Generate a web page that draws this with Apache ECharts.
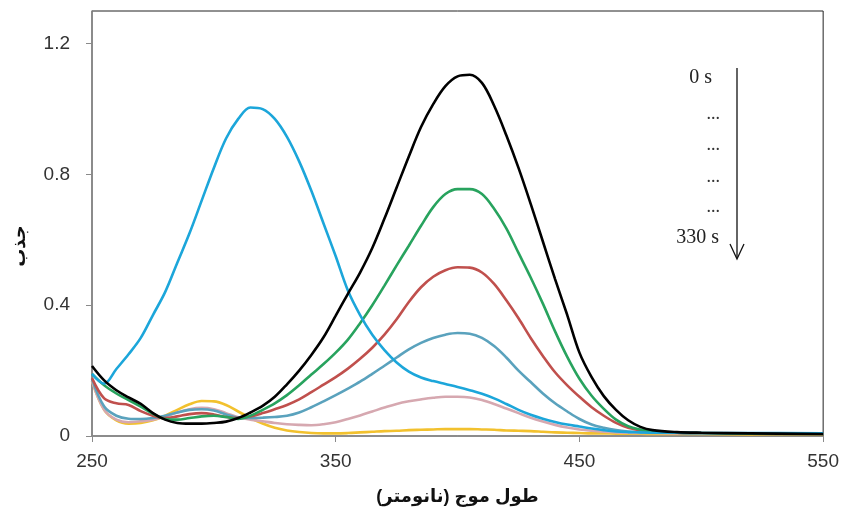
<!DOCTYPE html>
<html>
<head>
<meta charset="utf-8">
<script src="https://cdn.jsdelivr.net/npm/echarts@6/dist/echarts.min.js"></script>
<style>html,body{margin:0;padding:0;background:#fff}#c{width:842px;height:517px}</style>
</head>
<body>
<div id="c"></div>
<script>
const wavelengths = [250,255,260,265,270,275,280,285,290,295,300,305,310,315,320,325,330,335,340,345,350,355,360,365,370,375,380,385,390,395,400,405,410,415,420,425,430,435,440,445,450,455,460,465,470,475,480,490,500,520,550];

const s0 = [0.214,0.17,0.14,0.118,0.098,0.07,0.05,0.04,0.038,0.038,0.04,0.044,0.055,0.072,0.092,0.12,0.158,0.2,0.248,0.302,0.368,0.435,0.5,0.575,0.665,0.76,0.855,0.945,1.015,1.07,1.1,1.105,1.08,1.01,0.92,0.82,0.71,0.595,0.48,0.37,0.255,0.18,0.122,0.08,0.048,0.028,0.018,0.012,0.01,0.008,0.006];
const s1 = [0.19,0.155,0.13,0.11,0.09,0.068,0.052,0.05,0.055,0.06,0.062,0.058,0.052,0.062,0.08,0.1,0.125,0.155,0.188,0.22,0.255,0.295,0.345,0.4,0.46,0.522,0.582,0.643,0.7,0.74,0.755,0.755,0.74,0.695,0.635,0.56,0.485,0.405,0.32,0.242,0.175,0.123,0.083,0.05,0.03,0.02,0.014,0.01,0.009,0.007,0.006];
const s2 = [0.177,0.115,0.1,0.095,0.076,0.062,0.055,0.06,0.067,0.07,0.066,0.058,0.055,0.06,0.07,0.082,0.095,0.112,0.134,0.157,0.18,0.206,0.236,0.27,0.31,0.357,0.41,0.455,0.487,0.507,0.516,0.515,0.5,0.465,0.415,0.36,0.3,0.245,0.195,0.155,0.12,0.088,0.062,0.04,0.025,0.017,0.013,0.01,0.009,0.007,0.006];
const s3 = [0.174,0.09,0.062,0.053,0.052,0.055,0.062,0.072,0.08,0.082,0.078,0.066,0.056,0.055,0.056,0.058,0.062,0.072,0.088,0.106,0.125,0.145,0.166,0.19,0.215,0.24,0.265,0.285,0.3,0.31,0.315,0.313,0.3,0.275,0.24,0.2,0.165,0.13,0.1,0.075,0.052,0.035,0.025,0.018,0.014,0.012,0.011,0.01,0.009,0.008,0.007];
const s4 = [0.168,0.08,0.05,0.042,0.045,0.05,0.06,0.072,0.082,0.086,0.082,0.07,0.057,0.05,0.045,0.04,0.036,0.034,0.033,0.036,0.042,0.052,0.063,0.075,0.087,0.098,0.106,0.112,0.117,0.12,0.12,0.118,0.11,0.098,0.084,0.07,0.056,0.044,0.034,0.026,0.02,0.016,0.013,0.011,0.01,0.009,0.009,0.008,0.008,0.007,0.006];
const s5 = [0.168,0.08,0.048,0.038,0.04,0.048,0.062,0.08,0.097,0.107,0.106,0.095,0.075,0.055,0.038,0.025,0.017,0.012,0.009,0.008,0.008,0.009,0.011,0.013,0.015,0.016,0.018,0.019,0.02,0.021,0.021,0.021,0.02,0.019,0.017,0.016,0.015,0.013,0.011,0.01,0.009,0.008,0.008,0.007,0.007,0.007,0.006,0.006,0.006,0.005,0.005];
const s6 = [0.19,0.16,0.205,0.25,0.3,0.37,0.44,0.53,0.62,0.72,0.82,0.91,0.97,1.005,1.0,0.97,0.915,0.84,0.75,0.65,0.55,0.445,0.37,0.31,0.263,0.225,0.197,0.179,0.168,0.159,0.15,0.14,0.129,0.115,0.098,0.08,0.065,0.053,0.043,0.035,0.029,0.023,0.018,0.014,0.012,0.011,0.01,0.01,0.009,0.009,0.008];

const seriesData = [s5, s4, s3, s2, s1, s6, s0];
const seriesColors = ['#f2c12e','#d6a8b0','#5aa2bd','#c0504d','#28a35e','#1ca6da','#000000'];

const xTicks = [250,350,450,550];
const yTicks = [0,0.4,0.8,1.2];
const timeLabels = ['0 s','...','...','...','...','330 s'];
const yTitle = 'جذب';
const xTitle = 'طول موج (نانومتر)\u200F';

const chart = echarts.init(document.getElementById('c'), null, {renderer:'canvas'});
const labelFont = 'Arial, "Liberation Sans", sans-serif';
const serif = '"Liberation Serif", "Times New Roman", serif';

chart.setOption({
  animation: false,
  backgroundColor: '#fff',
  grid: {left: 92, right: 18, top: 11, bottom: 81, show: true, borderColor: '#222', borderWidth: 1, containLabel: false},
  xAxis: {
    type: 'value', min: 250, max: 550, interval: 100,
    name: xTitle, nameLocation: 'middle', nameGap: 52,
    nameTextStyle: {fontFamily: 'Arial, "DejaVu Sans", sans-serif', fontWeight: 'bold', fontSize: 18, color: '#111'},
    axisLine: {show: true, lineStyle: {color: '#8a8a8a', width: 1.5}},
    axisTick: {show: true, length: 6, inside: false, lineStyle: {color: '#8a8a8a'}, customValues: xTicks},
    axisLabel: {fontFamily: labelFont, fontSize: 19, color: '#333', margin: 16, customValues: xTicks},
    splitLine: {show: false}
  },
  yAxis: {
    type: 'value', min: 0, max: 1.3, interval: 0.4,
    axisLine: {show: true, lineStyle: {color: '#8a8a8a', width: 1.5}},
    axisTick: {show: true, length: 6, lineStyle: {color: '#8a8a8a'}, customValues: yTicks},
    axisLabel: {fontFamily: labelFont, fontSize: 19, color: '#333', margin: 22, customValues: yTicks,
      formatter: v => (v === 0 ? '0' : String(v))},
    splitLine: {show: false}
  },
  series: seriesData.map((d, i) => ({
    type: 'line',
    data: wavelengths.map((w, k) => [w, d[k]]),
    showSymbol: false, symbol: 'none',
    smooth: 0.35,
    lineStyle: {color: seriesColors[i], width: 2.6},
    z: 2 + i
  })),
  graphic: [
    {type: 'text', x: 20, y: 246, rotation: Math.PI / 2,
      style: {text: yTitle, font: 'bold 18px Arial, "DejaVu Sans", sans-serif', fill: '#111', align: 'center', verticalAlign: 'middle'}},
    {type: 'line', shape: {x1: 737, y1: 68, x2: 737, y2: 258}, style: {stroke: '#111', lineWidth: 1.3}},
    {type: 'polyline', shape: {points: [[730, 244], [737, 259], [744, 244]]}, style: {stroke: '#111', lineWidth: 1.3, fill: null}},
    {type: 'text', x: 712, y: 78, style: {text: timeLabels[0], font: '20px ' + serif, fill: '#222', align: 'right', verticalAlign: 'middle'}},
    {type: 'text', x: 720, y: 114, style: {text: timeLabels[1], font: '18px ' + serif, fill: '#333', align: 'right', verticalAlign: 'middle'}},
    {type: 'text', x: 720, y: 145, style: {text: timeLabels[2], font: '18px ' + serif, fill: '#333', align: 'right', verticalAlign: 'middle'}},
    {type: 'text', x: 720, y: 177, style: {text: timeLabels[3], font: '18px ' + serif, fill: '#333', align: 'right', verticalAlign: 'middle'}},
    {type: 'text', x: 720, y: 207, style: {text: timeLabels[4], font: '18px ' + serif, fill: '#333', align: 'right', verticalAlign: 'middle'}},
    {type: 'text', x: 719, y: 238, style: {text: timeLabels[5], font: '20px ' + serif, fill: '#222', align: 'right', verticalAlign: 'middle'}}
  ]
});
</script>
</body>
</html>
